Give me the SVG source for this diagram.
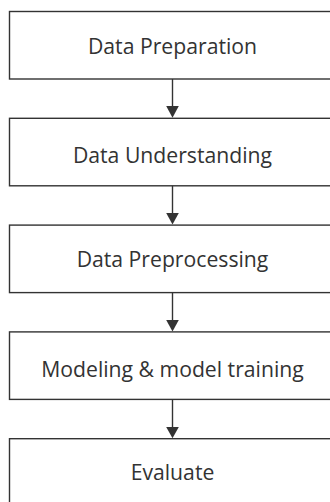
<svg xmlns="http://www.w3.org/2000/svg" width="330" height="502" viewBox="0 0 330 502">
<defs>
<style>
.box{fill:#fff;stroke:#333;stroke-width:1.4}
.lbl{font-family:"Open Sans",sans-serif;font-size:21.2px;fill:#333;text-anchor:middle}
.edge{stroke:#333;stroke-width:1.4;fill:none}
.head{fill:#333}
</style>
</defs>
<rect width="330" height="502" fill="#fff"/>
<g id="n1"><rect class="box" x="9.5" y="11.5" width="330" height="67.5"/><text class="lbl" x="172.5" y="54.3">Data Preparation</text></g>
<g id="n2"><rect class="box" x="9.5" y="118.3" width="330" height="67.5"/><text class="lbl" x="172.5" y="163.3">Data Understanding</text></g>
<g id="n3"><rect class="box" x="9.5" y="225.1" width="330" height="67.5"/><text class="lbl" x="172.5" y="266.7">Data Preprocessing</text></g>
<g id="n4"><rect class="box" x="9.5" y="331.9" width="330" height="67.5"/><text class="lbl" x="172.5" y="376.7">Modeling &amp; model training</text></g>
<g id="n5"><rect class="box" x="9.5" y="438.7" width="330" height="80"/><text class="lbl" x="172.5" y="480">Evaluate</text></g>
<g id="edges">
<line class="edge" x1="172.5" y1="79" x2="172.5" y2="107"/>
<path class="head" d="M166.2,106 L178.8,106 L172.5,117.8 Z"/>
<line class="edge" x1="172.5" y1="185.8" x2="172.5" y2="214"/>
<path class="head" d="M166.2,213 L178.8,213 L172.5,224.6 Z"/>
<line class="edge" x1="172.5" y1="292.6" x2="172.5" y2="321"/>
<path class="head" d="M166.2,320 L178.8,320 L172.5,331.4 Z"/>
<line class="edge" x1="172.5" y1="399.4" x2="172.5" y2="428"/>
<path class="head" d="M166.2,427 L178.8,427 L172.5,438.2 Z"/>
</g>
</svg>
